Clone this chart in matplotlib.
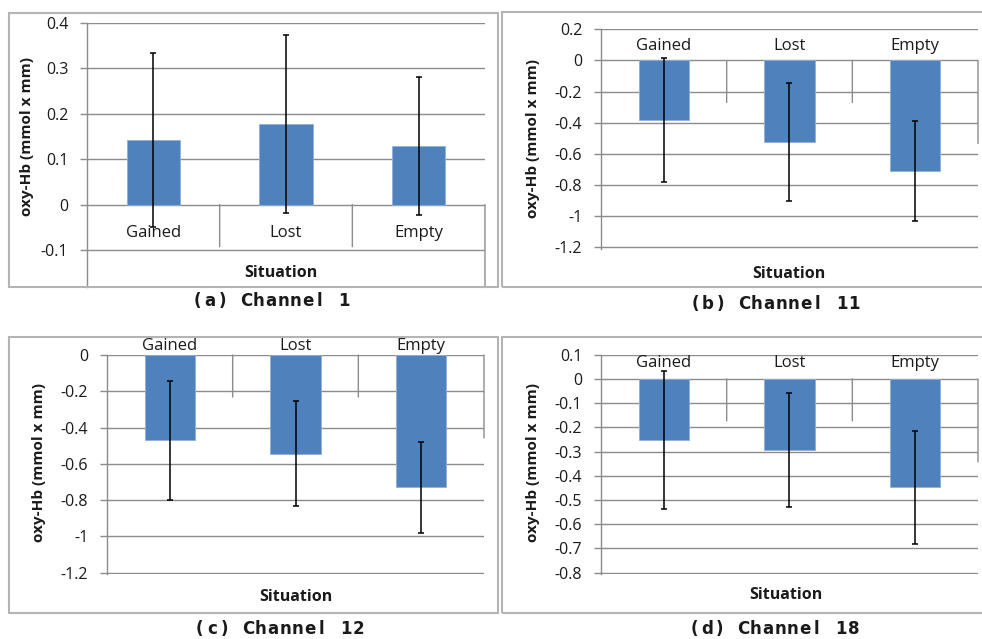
import matplotlib
matplotlib.use('Agg')
import matplotlib.pyplot as plt
from matplotlib.patches import Rectangle

W, H = 982, 639

categories = ['Gained', 'Lost', 'Empty']

ch1_mean = [0.142, 0.178, 0.130]
ch1_err = [0.192, 0.196, 0.152]
ch11_mean = [-0.383, -0.523, -0.713]
ch11_err = [0.400, 0.377, 0.321]
ch12_mean = [-0.471, -0.545, -0.729]
ch12_err = [0.327, 0.290, 0.252]
ch18_mean = [-0.253, -0.293, -0.448]
ch18_err = [0.284, 0.234, 0.235]

ticks_1 = [-0.1, 0, 0.1, 0.2, 0.3, 0.4]
ticks_11 = [-1.2, -1, -0.8, -0.6, -0.4, -0.2, 0, 0.2]
ticks_12 = [-1.2, -1, -0.8, -0.6, -0.4, -0.2, 0]
ticks_18 = [-0.8, -0.7, -0.6, -0.5, -0.4, -0.3, -0.2, -0.1, 0, 0.1]

captions = ['(a) Channel 1', '(b) Channel 11', '(c) Channel 12', '(d) Channel 18']

BAR = '#4f81bd'
GRID = '#8c8c8c'
FRAME = '#b4b4b4'
TXT = '#1a1a1a'
FONT = 'Open Sans'

fig = plt.figure(figsize=(W / 100, H / 100), dpi=100)


def fx(x):
    return x / W


def fy(y):
    return 1 - y / H


def tick_label(v):
    if abs(v) < 1e-9:
        return '0'
    s = ('%.1f' % v)
    if s.endswith('.0'):
        s = s[:-2]
    return s


# chart frames (pixel boxes: left, top, right, bottom)
frames = [(9, 13, 498, 287), (502, 12, 995, 287), (9, 337, 498, 613), (502, 337, 995, 613)]
for l, t, r, b in frames:
    fig.add_artist(Rectangle((fx(l), fy(b)), fx(r - l), (b - t) / H, transform=fig.transFigure,
                             fill=False, edgecolor=FRAME, linewidth=1.5))

# layout: axes left/right px, top tick px, bottom tick px, extra px below, label offset px,
# ylabel pos, xlabel pos, caption pos
layout = [
    dict(l=87, r=485, yt=23, yb=250, ext=37, lab=-28, ylab=(27, 137), xlab=(281, 273), cap=(271, 301)),
    dict(l=601, r=978, yt=29.3, yb=247.3, ext=1.5, lab=14, ylab=(533, 138), xlab=(789, 274), cap=(775, 304)),
    dict(l=107, r=484, yt=355, yb=572.7, ext=1.5, lab=9, ylab=(39, 463), xlab=(296, 597), cap=(279, 629)),
    dict(l=601, r=978, yt=354.7, yb=572.7, ext=1.5, lab=16, ylab=(533, 463), xlab=(786, 595), cap=(774, 629)),
]

series = [(ch1_mean, ch1_err, ticks_1), (ch11_mean, ch11_err, ticks_11),
          (ch12_mean, ch12_err, ticks_12), (ch18_mean, ch18_err, ticks_18)]

for (means, errs, ticks), lo, cap in zip(series, layout, captions):
    v_hi, v_lo = ticks[-1], ticks[0]
    ppu = (lo['yb'] - lo['yt']) / (v_hi - v_lo)
    bottom_px = lo['yb'] + lo['ext']
    ax = fig.add_axes([fx(lo['l']), fy(bottom_px), fx(lo['r'] - lo['l']), (bottom_px - lo['yt']) / H])
    ax.set_xlim(-0.5, 2.5)
    ax.set_ylim(v_lo - lo['ext'] / ppu, v_hi)
    ax.patch.set_visible(False)

    x = list(range(len(categories)))
    ax.bar(x, means, width=0.4, color=BAR, edgecolor='#8fb0da', linewidth=0.6, zorder=2)
    ax.errorbar(x, means, yerr=errs, fmt='none', ecolor='black', elinewidth=1.1,
                capsize=2.5, capthick=1.1, zorder=3)

    ax.set_yticks(ticks)
    ax.set_yticklabels([tick_label(t) for t in ticks], fontsize=11.5, family=FONT, color=TXT)
    ax.set_xticks([])
    ax.yaxis.grid(True, color=GRID, linewidth=1)
    ax.set_axisbelow(True)
    ax.tick_params(axis='y', length=5, width=1, color=GRID, pad=8.5)
    for s in ['top', 'right', 'bottom']:
        ax.spines[s].set_visible(False)
    ax.spines['left'].set_color(GRID)
    ax.spines['left'].set_linewidth(1)
    ax.spines['left'].set_clip_on(False)

    # category separators hanging from the zero line
    for xs, ln in [(0.5, 42), (1.5, 42), (2.5, 83)]:
        ax.annotate('', xy=(xs, 0), xytext=(0, -ln), textcoords='offset pixels',
                    annotation_clip=False,
                    arrowprops=dict(arrowstyle='-', color=GRID, lw=1, shrinkA=0, shrinkB=0))

    for i, c in enumerate(categories):
        ax.annotate(c, xy=(i, 0), xytext=(0, lo['lab']), textcoords='offset pixels',
                    ha='center', va='center', fontsize=12, family=FONT, color=TXT,
                    annotation_clip=False)

    fig.text(fx(lo['ylab'][0]), fy(lo['ylab'][1]), 'oxy-Hb (mmol x mm)', rotation=90,
             ha='center', va='center', fontsize=11, fontweight='bold', family=FONT, color=TXT)
    fig.text(fx(lo['xlab'][0]), fy(lo['xlab'][1]), 'Situation',
             ha='center', va='center', fontsize=11.5, fontweight='bold', family=FONT, color=TXT)

    # monospaced, widely spaced caption
    pitch = 12.2
    n = len(cap)
    for i, ch in enumerate(cap):
        if ch == ' ':
            continue
        cx = lo['cap'][0] + (i - (n - 1) / 2) * pitch
        fig.text(fx(cx), fy(lo['cap'][1]), ch, ha='center', va='center',
                 fontsize=12, fontweight='bold', family='DejaVu Sans', color=TXT)

fig.savefig('out.png', dpi=100)
